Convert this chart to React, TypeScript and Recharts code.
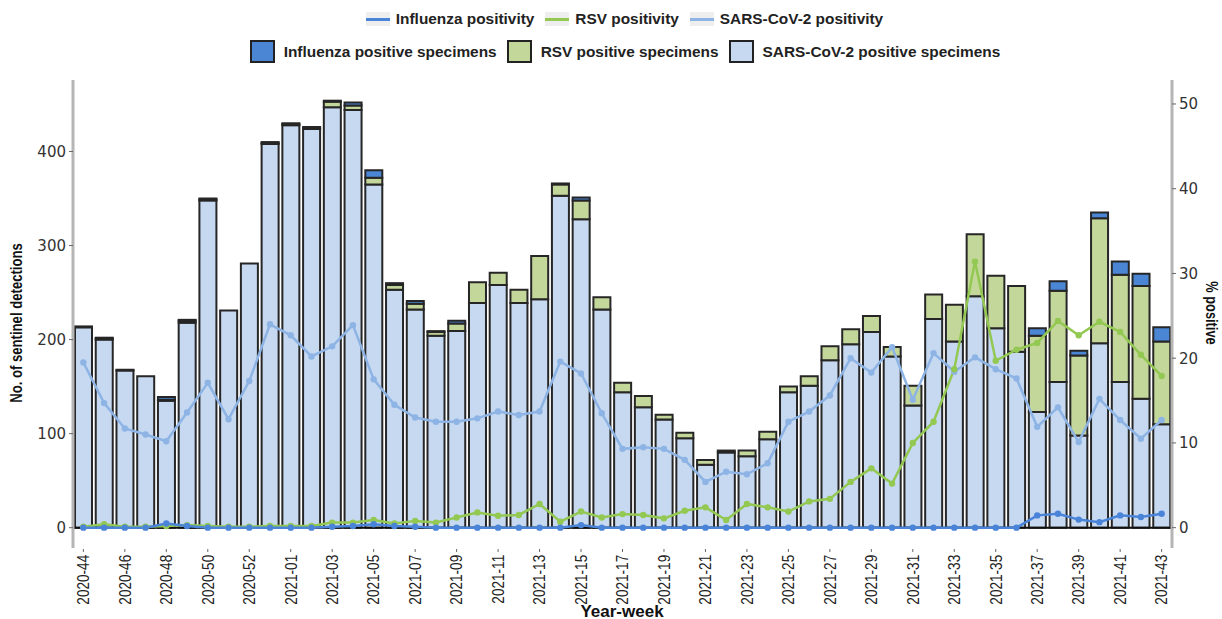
import { ComposedChart, Bar, Line, XAxis, YAxis, ReferenceLine } from "recharts";

// year-week labels, 2020-44 .. 2021-43 (2020 has a week 53)
const weeks = [
  "2020-44", "2020-45", "2020-46", "2020-47", "2020-48", "2020-49", "2020-50", "2020-51", "2020-52", "2020-53",
  "2021-01", "2021-02", "2021-03", "2021-04", "2021-05", "2021-06", "2021-07", "2021-08", "2021-09", "2021-10",
  "2021-11", "2021-12", "2021-13", "2021-14", "2021-15", "2021-16", "2021-17", "2021-18", "2021-19", "2021-20",
  "2021-21", "2021-22", "2021-23", "2021-24", "2021-25", "2021-26", "2021-27", "2021-28", "2021-29", "2021-30",
  "2021-31", "2021-32", "2021-33", "2021-34", "2021-35", "2021-36", "2021-37", "2021-38", "2021-39", "2021-40",
  "2021-41", "2021-42", "2021-43",
];

const sarsCounts = [
  213, 200, 167, 161, 135, 218, 348, 231, 281, 408,
  428, 424, 447, 444, 365, 253, 232, 204, 209, 239,
  258, 239, 243, 353, 328, 232, 144, 128, 115, 95,
  67, 80, 76, 94, 144, 151, 178, 195, 208, 182,
  130, 222, 198, 246, 212, 187, 123, 155, 98, 196,
  155, 137, 110,
];

const rsvCounts = [
  0, 1, 0, 0, 1, 2, 1, 0, 0, 1,
  1, 1, 6, 5, 7, 5, 6, 4, 8, 22,
  13, 14, 46, 12, 20, 13, 10, 12, 5, 6,
  5, 2, 6, 8, 6, 10, 15, 16, 17, 10,
  21, 26, 39, 66, 56, 70, 81, 97, 85, 133,
  114, 120, 88,
];

const fluCounts = [
  1, 1, 1, 0, 3, 1, 1, 0, 0, 1,
  1, 1, 1, 3, 8, 2, 3, 1, 3, 0,
  0, 0, 0, 1, 3, 0, 0, 0, 0, 0,
  0, 0, 0, 0, 0, 0, 0, 0, 0, 0,
  0, 0, 0, 0, 0, 0, 8, 10, 5, 6,
  14, 13, 15,
];

const sarsPositivity = [
  19.5, 14.7, 11.7, 11.0, 10.2, 13.6, 17.1, 12.8, 17.3, 24.0,
  22.7, 20.2, 21.4, 23.9, 17.5, 14.5, 13.0, 12.5, 12.5, 12.9,
  13.7, 13.3, 13.7, 19.6, 18.2, 13.5, 9.3, 9.5, 9.3, 8.0,
  5.4, 6.6, 6.3, 7.6, 12.5, 13.7, 15.6, 20.0, 18.3, 21.3,
  15.1, 20.6, 18.4, 20.1, 18.7, 17.6, 11.9, 14.2, 10.1, 15.2,
  12.7, 10.5, 12.7,
];

const rsvPositivity = [
  0.1, 0.4, 0.1, 0.1, 0.2, 0.3, 0.2, 0.1, 0.1, 0.2,
  0.2, 0.2, 0.6, 0.6, 0.9, 0.5, 0.8, 0.6, 1.2, 1.8,
  1.4, 1.5, 2.8, 0.7, 1.9, 1.2, 1.6, 1.5, 1.1, 2.0,
  2.4, 0.9, 2.8, 2.4, 1.9, 3.1, 3.4, 5.4, 7.0, 5.2,
  10.0, 12.5, 18.7, 31.4, 19.7, 21.0, 21.8, 24.4, 22.7, 24.3,
  23.1, 20.4, 17.9,
];

const fluPositivity = [
  0.0, 0.0, 0.0, 0.0, 0.5, 0.2, 0.0, 0.0, 0.0, 0.0,
  0.0, 0.0, 0.1, 0.2, 0.4, 0.2, 0.1, 0.0, 0.0, 0.0,
  0.0, 0.0, 0.0, 0.0, 0.3, 0.0, 0.0, 0.0, 0.0, 0.0,
  0.0, 0.0, 0.0, 0.0, 0.0, 0.0, 0.0, 0.0, 0.0, 0.0,
  0.0, 0.0, 0.0, 0.0, 0.0, 0.0, 1.45, 1.65, 0.95, 0.65,
  1.45, 1.25, 1.65,
];

const countTicks = [0, 100, 200, 300, 400];
const pctTicks = [0, 10, 20, 30, 40, 50];
const weekTicks = weeks.filter((_, i) => i % 2 === 0);

const data = weeks.map((week, i) => ({
  week,
  sars: sarsCounts[i],
  rsv: rsvCounts[i],
  flu: fluCounts[i],
  sarsPct: sarsPositivity[i],
  rsvPct: rsvPositivity[i],
  fluPct: fluPositivity[i],
}));

const colors = {
  sarsBar: "#c6d9f1",
  rsvBar: "#c4d79b",
  fluBar: "#4a86d4",
  sarsLine: "#8db4e4",
  rsvLine: "#93c852",
  fluLine: "#4a84d8",
};

const sans = "'Liberation Sans', Arial, sans-serif";
const numFont = "'DejaVu Sans', sans-serif";

// rotated week label, squeezed along its length to look like a narrow face
const WeekTick = ({ x, y, payload }: any) => (
  <g transform={`translate(${x},${y})`}>
    <line x1={0} y1={1} x2={0} y2={4} stroke="#666" strokeWidth={1} />
    <text
      transform="rotate(-90) scale(0.85,1)"
      x={-8}
      y={0}
      dy="0.36em"
      textAnchor="end"
      fill="#222"
      style={{ fontFamily: sans, fontSize: 16 }}
    >
      {payload.value}
    </text>
  </g>
);

const LineKey = ({ color, label }: { color: string; label: string }) => (
  <div style={{ display: "flex", alignItems: "center", marginRight: 11 }}>
    <div
      style={{
        width: 24,
        height: 14,
        background: "#eeeeee",
        display: "flex",
        alignItems: "center",
        marginRight: 6,
      }}
    >
      <div style={{ width: 24, height: 3, background: color }} />
    </div>
    <span>{label}</span>
  </div>
);

const BoxKey = ({ color, label }: { color: string; label: string }) => (
  <div style={{ display: "flex", alignItems: "center", marginRight: 10 }}>
    <div
      style={{
        width: 21,
        height: 19,
        background: color,
        border: "2px solid #222",
        marginRight: 9,
      }}
    />
    <span>{label}</span>
  </div>
);

const titleStyle = {
  position: "absolute" as const,
  whiteSpace: "nowrap" as const,
  fontFamily: sans,
  fontWeight: 700,
  fontSize: 16,
  color: "#111",
};

export default function App() {
  return (
    <div style={{ position: "absolute", left: 0, top: 0, width: 1222, height: 619, background: "#fff" }}>
      <div
        style={{
          position: "absolute",
          left: 19,
          top: 0,
          width: 1222,
          fontFamily: sans,
          fontWeight: 700,
          fontSize: 15.4,
          color: "#222",
        }}
      >
        <div style={{ display: "flex", justifyContent: "center", marginTop: 10, height: 18 }}>
          <LineKey color={colors.fluLine} label="Influenza positivity" />
          <LineKey color={colors.rsvLine} label="RSV positivity" />
          <LineKey color={colors.sarsLine} label="SARS-CoV-2 positivity" />
        </div>
        <div style={{ display: "flex", justifyContent: "center", marginTop: 12 }}>
          <BoxKey color={colors.fluBar} label="Influenza positive specimens" />
          <BoxKey color={colors.rsvBar} label="RSV positive specimens" />
          <BoxKey color={colors.sarsBar} label="SARS-CoV-2 positive specimens" />
        </div>
      </div>

      <ComposedChart
        width={1222}
        height={619}
        data={data}
        margin={{ top: 80, right: 0, bottom: 0, left: 0 }}
        barCategoryGap={2}
      >
        <XAxis
          dataKey="week"
          ticks={weekTicks}
          interval={0}
          axisLine={false}
          tickLine={false}
          tickSize={0}
          tickMargin={0}
          height={71}
          tick={<WeekTick />}
        />
        <YAxis
          yAxisId="left"
          width={73}
          domain={[-21.6, 476]}
          ticks={countTicks}
          axisLine={{ stroke: "#b5b5b5", strokeWidth: 3 }}
          tickLine={{ stroke: "#666" }}
          tickSize={4}
          tickMargin={3}
          tick={{ fill: "#333", fontSize: 15, fontFamily: numFont }}
        />
        <YAxis
          yAxisId="right"
          orientation="right"
          width={50}
          domain={[-2.4, 52.83]}
          ticks={pctTicks}
          axisLine={{ stroke: "#b5b5b5", strokeWidth: 3 }}
          tickLine={{ stroke: "#666" }}
          tickSize={4}
          tickMargin={3}
          tick={{ fill: "#333", fontSize: 15, fontFamily: numFont }}
        />
        <Bar yAxisId="left" dataKey="sars" stackId="s" fill={colors.sarsBar} stroke="#262626" strokeWidth={2} isAnimationActive={false} />
        <Bar yAxisId="left" dataKey="rsv" stackId="s" fill={colors.rsvBar} stroke="#262626" strokeWidth={2} isAnimationActive={false} />
        <Bar yAxisId="left" dataKey="flu" stackId="s" fill={colors.fluBar} stroke="#262626" strokeWidth={2} isAnimationActive={false} />
        <ReferenceLine yAxisId="left" y={0} stroke="#111" strokeWidth={2} />
        <Line
          yAxisId="right"
          dataKey="sarsPct"
          stroke={colors.sarsLine}
          strokeWidth={2.5}
          dot={{ r: 3.2, fill: colors.sarsLine, stroke: "none" }}
          isAnimationActive={false}
        />
        <Line
          yAxisId="right"
          dataKey="rsvPct"
          stroke={colors.rsvLine}
          strokeWidth={2.5}
          dot={{ r: 3.2, fill: colors.rsvLine, stroke: "none" }}
          isAnimationActive={false}
        />
        <Line
          yAxisId="right"
          dataKey="fluPct"
          stroke={colors.fluLine}
          strokeWidth={2.5}
          dot={{ r: 3.2, fill: colors.fluLine, stroke: "none" }}
          isAnimationActive={false}
        />
      </ComposedChart>

      <div style={{ ...titleStyle, left: 17, top: 323, transform: "translate(-50%, -50%) rotate(-90deg) scaleX(0.82)" }}>
        No. of sentinel detections
      </div>
      <div style={{ ...titleStyle, left: 1211, top: 313, transform: "translate(-50%, -50%) rotate(90deg) scaleX(0.8)" }}>
        % positive
      </div>
      <div style={{ ...titleStyle, left: 622, top: 612, fontSize: 17, transform: "translate(-50%, -50%)" }}>
        Year-week
      </div>
    </div>
  );
}
